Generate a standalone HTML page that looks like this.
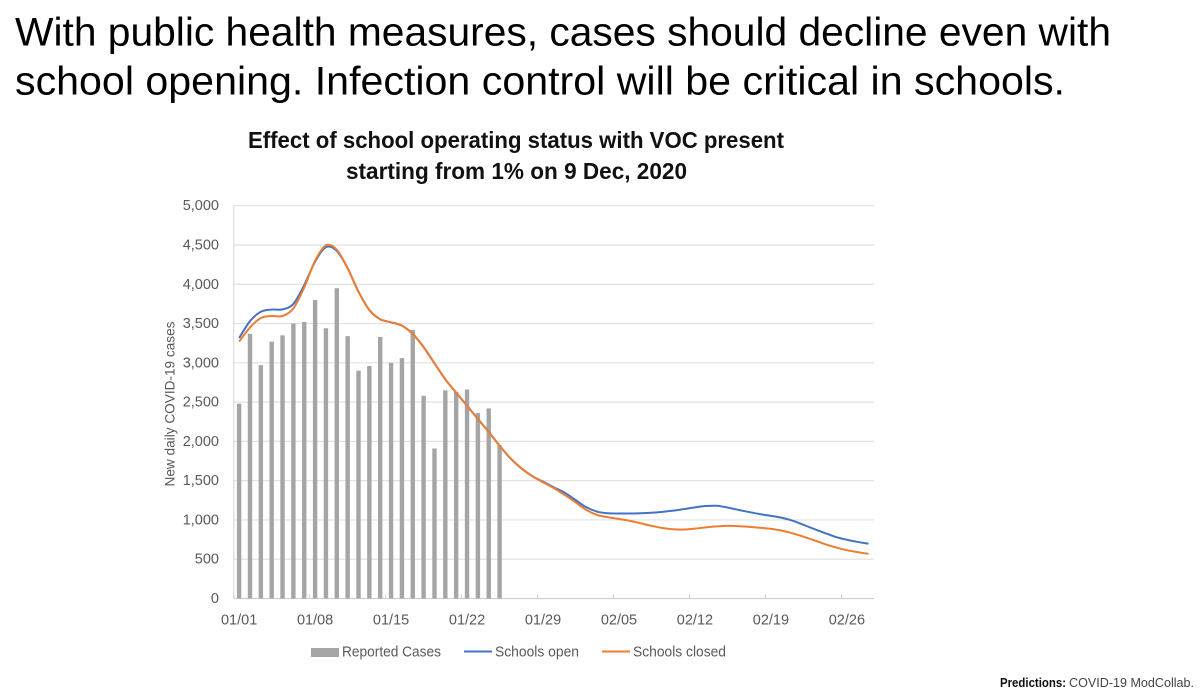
<!DOCTYPE html>
<html lang="en">
<head>
<meta charset="utf-8">
<title>Effect of school operating status</title>
<style>
html,body{margin:0;padding:0;background:#fff;width:1200px;height:695px;overflow:hidden}
svg{display:block;font-family:"Liberation Sans",sans-serif}
.blur{filter:blur(0.35px)}
.tick{font-size:14.5px;fill:#595959}
.ytitle{font-size:14px;fill:#595959}
.leg{font-size:14.5px;fill:#595959}
</style>
</head>
<body>
<svg id="slide" width="1200" height="695" viewBox="0 0 1200 695" xmlns="http://www.w3.org/2000/svg">
  <rect x="0" y="0" width="1200" height="695" fill="#fff"/>
  <text x="15" y="45.5" font-size="40" fill="#000" textLength="1096" lengthAdjust="spacingAndGlyphs">With public health measures, cases should decline even with</text>
  <text x="15" y="94.5" font-size="40" fill="#000" textLength="1050" lengthAdjust="spacingAndGlyphs">school opening. Infection control will be critical in schools.</text>
  <text x="248" y="148" font-size="23" font-weight="700" fill="#111" textLength="536" lengthAdjust="spacingAndGlyphs">Effect of school operating status with VOC present</text>
  <text x="346" y="179" font-size="23" font-weight="700" fill="#111" textLength="341" lengthAdjust="spacingAndGlyphs">starting from 1% on 9 Dec, 2020</text>
  <g id="chart" class="blur"></g>
  <text class="ytitle" transform="translate(174.5 404) rotate(-90)" text-anchor="middle" textLength="165" lengthAdjust="spacingAndGlyphs">New daily COVID-19 cases</text>
  <g class="blur">
    <rect x="311" y="648" width="28" height="9" fill="#a5a5a5"/>
    <text class="leg" x="342" y="656.5" textLength="99" lengthAdjust="spacingAndGlyphs">Reported Cases</text>
    <line x1="464" x2="492" y1="651.5" y2="651.5" stroke="#4472c4" stroke-width="2"/>
    <text class="leg" x="495" y="656.5" textLength="84" lengthAdjust="spacingAndGlyphs">Schools open</text>
    <line x1="602" x2="630" y1="651.5" y2="651.5" stroke="#ed7d31" stroke-width="2"/>
    <text class="leg" x="633" y="656.5" textLength="93" lengthAdjust="spacingAndGlyphs">Schools closed</text>
  </g>
  <text x="1000" y="687" font-size="13" font-weight="700" fill="#111" textLength="66" lengthAdjust="spacingAndGlyphs">Predictions:</text>
  <text x="1069" y="687" font-size="13" fill="#444" textLength="125" lengthAdjust="spacingAndGlyphs">COVID-19 ModCollab.</text>
</svg>
<script>
const categories = ["01/01","01/02","01/03","01/04","01/05","01/06","01/07","01/08","01/09","01/10","01/11","01/12","01/13","01/14","01/15","01/16","01/17","01/18","01/19","01/20","01/21","01/22","01/23","01/24","01/25","01/26","01/27","01/28","01/29","01/30","01/31","02/01","02/02","02/03","02/04","02/05","02/06","02/07","02/08","02/09","02/10","02/11","02/12","02/13","02/14","02/15","02/16","02/17","02/18","02/19","02/20","02/21","02/22","02/23","02/24","02/25","02/26","02/27","02/28"];
const reportedCases = [2480,3370,2970,3270,3350,3500,3520,3800,3440,3950,3340,2900,2960,3330,3000,3060,3420,2580,1910,2650,2630,2660,2360,2420,1950];
const schoolsOpen = [3316,3530,3650,3678,3680,3750,3990,4287,4472,4425,4203,3905,3672,3554,3516,3473,3367,3200,2993,2790,2620,2454,2285,2120,1945,1784,1657,1559,1487,1415,1347,1254,1161,1105,1085,1082,1082,1085,1091,1102,1118,1139,1160,1177,1180,1158,1128,1100,1074,1052,1028,990,938,884,832,782,748,720,698];
const schoolsClosed = [3270,3450,3570,3596,3596,3693,3960,4300,4495,4440,4203,3905,3672,3554,3516,3473,3367,3200,2993,2790,2620,2454,2285,2120,1945,1784,1657,1559,1480,1405,1318,1224,1127,1063,1034,1012,988,958,925,897,881,878,890,905,918,925,922,912,900,886,864,830,787,741,692,650,615,590,568];
const yTicks = [0,500,1000,1500,2000,2500,3000,3500,4000,4500,5000];
const xTickLabels = ["01/01","01/08","01/15","01/22","01/29","02/05","02/12","02/19","02/26"];

const NS = "http://www.w3.org/2000/svg";
const chart = document.getElementById("chart");
const plot = {left: 233.7, right: 874, top: 205.7, bottom: 598.5, yMax: 5000};
const band = (plot.right - plot.left) / categories.length;
function xEdge(i){ return plot.left + band * i; }
function xPos(i){ return plot.left + band * (i + 0.5); }
function yPos(v){ return plot.bottom - (v / plot.yMax) * (plot.bottom - plot.top); }
function make(tag, attrs, parent){
  const el = document.createElementNS(NS, tag);
  for (const k in attrs) el.setAttribute(k, attrs[k]);
  (parent || chart).appendChild(el);
  return el;
}
function smoothPath(values){
  const pts = values.map((v, i) => [xPos(i), yPos(v)]);
  let d = "M" + pts[0][0].toFixed(2) + " " + pts[0][1].toFixed(2);
  for (let i = 0; i < pts.length - 1; i++){
    const p0 = pts[Math.max(i - 1, 0)], p1 = pts[i], p2 = pts[i + 1], p3 = pts[Math.min(i + 2, pts.length - 1)];
    const c1x = p1[0] + (p2[0] - p0[0]) / 6, c1y = p1[1] + (p2[1] - p0[1]) / 6;
    const c2x = p2[0] - (p3[0] - p1[0]) / 6, c2y = p2[1] - (p3[1] - p1[1]) / 6;
    d += "C" + c1x.toFixed(2) + " " + c1y.toFixed(2) + " " + c2x.toFixed(2) + " " + c2y.toFixed(2) + " " + p2[0].toFixed(2) + " " + p2[1].toFixed(2);
  }
  return d;
}

yTicks.forEach(function(v){
  const y = yPos(v);
  if (v > 0) {
    const grid = make("line", {x1: plot.left, x2: plot.right, y1: y, y2: y, stroke: "#e2e2e2", "stroke-width": 1.2});
    
    
  }
  const label = make("text", {x: 219, y: y + 4.5, "text-anchor": "end", class: "tick"});
  
  
  label.textContent = v.toLocaleString("en-US");
});

const yAxis = make("line", {x1: plot.left, x2: plot.left, y1: plot.top, y2: plot.bottom, stroke: "#dcdcdc", "stroke-width": 1.2});


const xAxis = make("line", {x1: plot.left, x2: plot.right, y1: plot.bottom, y2: plot.bottom, stroke: "#d0d0d0", "stroke-width": 1.2});



xTickLabels.forEach(function(t){
  const i = categories.indexOf(t);
  const mark = make("line", {x1: xEdge(i), x2: xEdge(i), y1: plot.bottom - 4, y2: plot.bottom, stroke: "#d0d0d0", "stroke-width": 1});
  
  
  const label = make("text", {x: xPos(i), y: 624.5, "text-anchor": "middle", class: "tick"});
  
  
  label.textContent = t;
});

reportedCases.forEach(function(v, i){
  const bar = make("rect", {x: xPos(i) - 2.2, y: yPos(v), width: 4.4, height: plot.bottom - yPos(v), fill: "#a5a5a5"});
  
  
});

const openLine = make("path", {d: smoothPath(schoolsOpen), fill: "none", stroke: "#4472c4", "stroke-width": 2, "stroke-linejoin": "round"});


const closedLine = make("path", {d: smoothPath(schoolsClosed), fill: "none", stroke: "#ed7d31", "stroke-width": 2, "stroke-linejoin": "round"});


</script>
</body>
</html>
